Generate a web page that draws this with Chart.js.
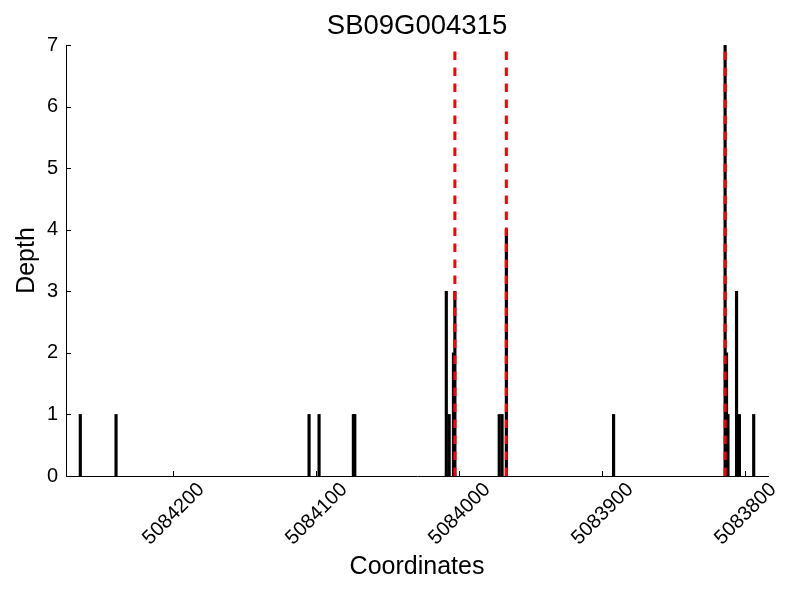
<!DOCTYPE html>
<html>
<head>
<meta charset="utf-8">
<script src="https://cdn.jsdelivr.net/npm/chart.js@4"></script>
<style>
  body { margin: 0; background: #fff; }
</style>
</head>
<body>
<canvas id="grafico" width="800" height="600"></canvas>
<script>
// dados
const coords = [5084265, 5084240, 5084105, 5084098, 5084074, 5084073, 5084009, 5084007, 5084004, 5084003,
                5083972, 5083970, 5083967, 5083892, 5083814, 5083813, 5083812, 5083806, 5083804, 5083794];
const depths = [1, 1, 1, 1, 1, 1, 3, 1, 2, 3,
                1, 1, 4, 1, 7, 2, 1, 3, 1, 1];
const markers = [5084003, 5083967, 5083814];
const xTicks = [5083800, 5083900, 5084000, 5084100, 5084200];
const yTicks = [0, 1, 2, 3, 4, 5, 6, 7];

Chart.defaults.font.family = "'Liberation Sans', Arial, sans-serif";
Chart.defaults.color = '#000';

// ticks para dentro
const ticksDentro = {
    id: 'ticksDentro',
    afterDraw(chart) {
        const { ctx, chartArea, scales } = chart;
        ctx.save();
        ctx.strokeStyle = '#000';
        ctx.lineWidth = 1;
        ctx.beginPath();
        xTicks.forEach(v => {
            const px = Math.round(scales.x.getPixelForValue(v)) + 0.5;
            ctx.moveTo(px, chartArea.bottom);
            ctx.lineTo(px, chartArea.bottom - 5);
        });
        yTicks.forEach(v => {
            const py = Math.round(scales.y.getPixelForValue(v)) + 0.5;
            ctx.moveTo(chartArea.left, py);
            ctx.lineTo(chartArea.left + 5, py);
        });
        ctx.stroke();
        ctx.restore();
    }
};

const linhas = markers.map(m => ({
    type: 'line',
    data: [{ x: m, y: 0 }, { x: m, y: 7 }],
    borderColor: '#ff0000',
    borderWidth: 3,
    borderDash: [8.5, 7.5],
    pointRadius: 0,
    order: 0
}));

new Chart(document.getElementById('grafico'), {
    type: 'bar',
    data: {
        datasets: [{
            data: coords.map((c, i) => ({ x: c, y: depths[i] })),
            backgroundColor: '#000',
            barThickness: 2.5,
            order: 1
        }, ...linhas]
    },
    options: {
        responsive: false,
        animation: false,
        layout: { padding: { left: 0, right: 32, top: 0, bottom: 0 } },
        plugins: {
            legend: { display: false },
            tooltip: { enabled: false }
        },
        scales: {
            x: {
                type: 'linear',
                reverse: true,
                offset: false,
                min: 5083784,
                max: 5084275,
                grid: { display: false, drawTicks: false },
                border: { display: true, color: '#000', width: 1 },
                afterBuildTicks: s => { s.ticks = xTicks.map(v => ({ value: v })); },
                afterFit: s => { s.height = 124; },
                ticks: {
                    autoSkip: false,
                    minRotation: 45,
                    maxRotation: 45,
                    labelOffset: 28,
                    padding: 2,
                    font: { size: 20 },
                    callback: v => String(v)
                },
                title: {
                    display: true,
                    text: 'Coordinates',
                    font: { size: 25 },
                    padding: { top: 0, bottom: 18 }
                }
            },
            // titulo centrado na area do grafico
            topo: {
                type: 'linear',
                position: 'top',
                grid: { display: false, drawTicks: false },
                border: { display: false },
                ticks: { display: false },
                afterFit: s => { s.height = 45; },
                title: {
                    display: true,
                    text: 'SB09G004315',
                    font: { size: 27.5 },
                    padding: { top: 10, bottom: 0 }
                }
            },
            y: {
                min: 0,
                max: 7,
                grid: { display: false, drawTicks: false },
                border: { display: true, color: '#000', width: 1 },
                afterBuildTicks: s => { s.ticks = yTicks.map(v => ({ value: v })); },
                afterFit: s => { s.width = 66; },
                ticks: { padding: 8, font: { size: 20 } },
                title: {
                    display: true,
                    text: 'Depth',
                    font: { size: 25 },
                    padding: { top: 12, bottom: 0 }
                }
            }
        }
    },
    plugins: [ticksDentro]
});
</script>
</body>
</html>
